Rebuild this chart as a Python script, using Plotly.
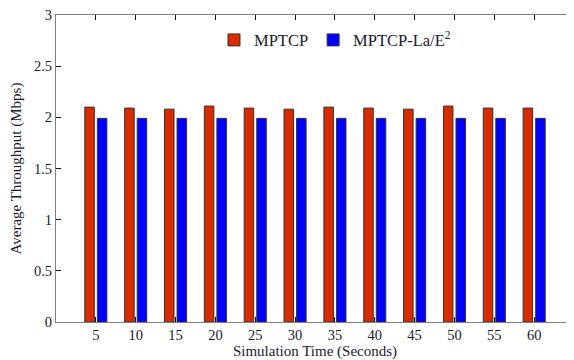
import plotly.graph_objects as go

categories = ["5", "10", "15", "20", "25", "30", "35", "40", "45", "50", "55", "60"]
mptcp = [2.10, 2.09, 2.08, 2.11, 2.09, 2.08, 2.10, 2.09, 2.08, 2.11, 2.09, 2.09]
mptcp_lae2 = [1.99, 1.99, 1.99, 1.99, 1.99, 1.99, 1.99, 1.99, 1.99, 1.99, 1.99, 1.99]
y_ticks = [0, 0.5, 1, 1.5, 2, 2.5, 3]
y_tick_labels = ["0", "0.5", "1", "1.5", "2", "2.5", "3"]

FONT = "Liberation Serif, Times New Roman, serif"
TXT = "#1a1a2e"

fig = go.Figure()
fig.add_trace(go.Bar(
    x=categories, y=mptcp, name="MPTCP",
    marker=dict(color="#D92B00", line=dict(color="#333333", width=1)),
))
fig.add_trace(go.Bar(
    x=categories, y=mptcp_lae2, name="MPTCP-La/E<sup>2</sup>",
    marker=dict(color="#0000FF", line=dict(color="#333333", width=1)),
))

axis_common = dict(
    showline=True, linecolor="#7f7f7f", linewidth=1, mirror="ticks",
    ticks="inside", ticklen=5, tickcolor="#111111", tickwidth=1,
    showgrid=False, zeroline=False, ticklabeloverflow="allow",
    tickfont=dict(family=FONT, size=14.5, color=TXT),
)

# the page body adds an 8px offset, so the figure is 8px smaller
fig.update_layout(
    width=566, height=352,
    margin=dict(l=48, r=0, t=7, b=38),
    paper_bgcolor="white", plot_bgcolor="white",
    barmode="group", bargap=0.37, bargroupgap=0.24,
    font=dict(family=FONT, size=15, color=TXT),
    showlegend=True,
    legend=dict(
        orientation="h", x=0.305, y=0.975, xanchor="left", yanchor="top",
        bgcolor="rgba(0,0,0,0)", borderwidth=0,
        font=dict(family=FONT, size=16.5, color=TXT),
    ),
    xaxis=dict(
        axis_common,
        type="category", categoryorder="array", categoryarray=categories,
        range=[-1, 12], automargin=False,
        title=dict(text="Simulation Time (Seconds)", standoff=4,
                   font=dict(family=FONT, size=15, color=TXT)),
    ),
    yaxis=dict(
        axis_common,
        range=[0, 3], tickvals=y_ticks, ticktext=y_tick_labels, automargin=False,
        title=dict(text="Average Throughput (Mbps)", standoff=8,
                   font=dict(family=FONT, size=15, color=TXT)),
    ),
)

fig.write_html("out.html")
